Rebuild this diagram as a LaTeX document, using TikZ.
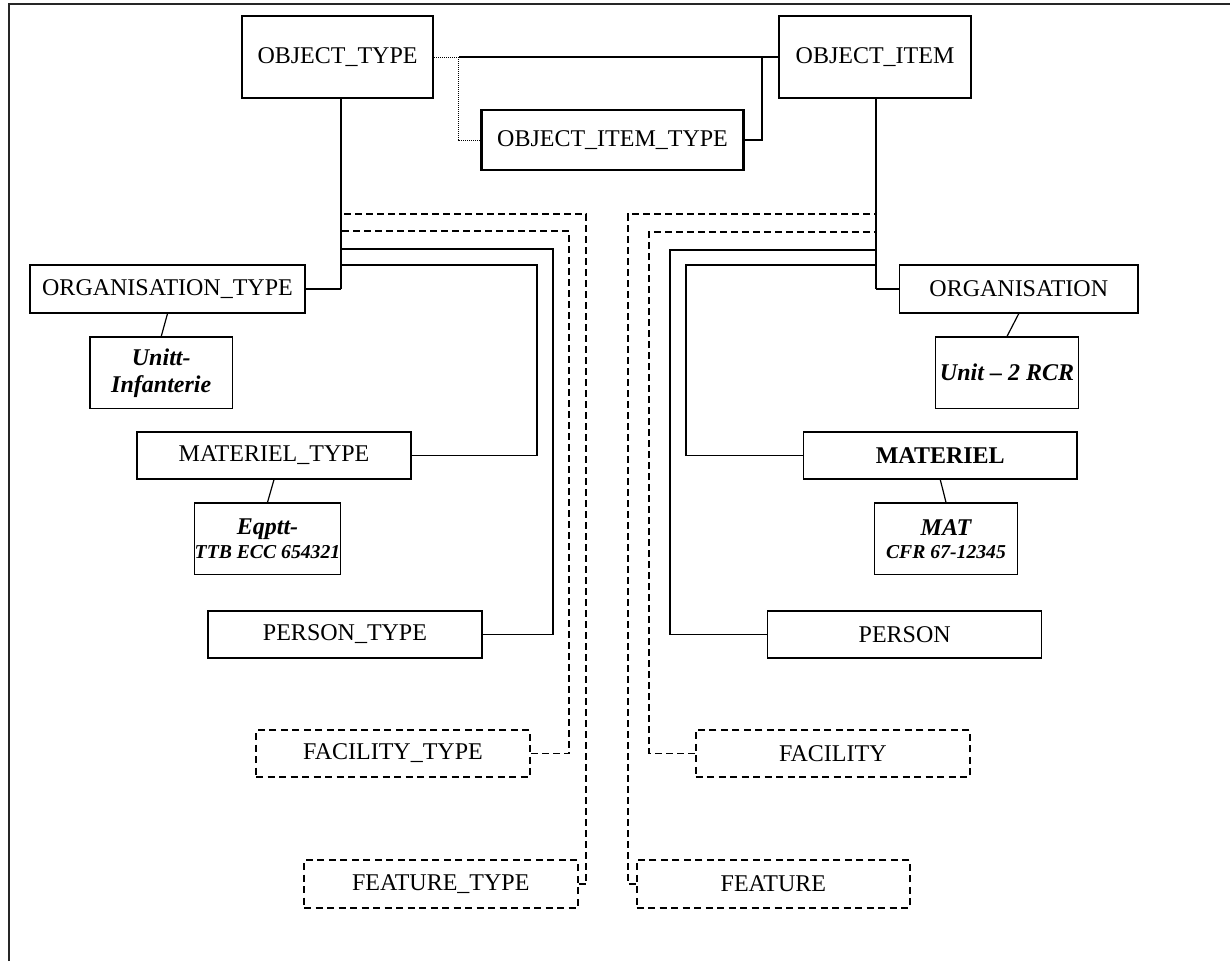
\documentclass[tikz,border=0pt]{standalone}
\usepackage{fontspec}
\setmainfont{Liberation Serif}
\begin{document}
\begin{tikzpicture}[x=1pt,y=-1pt,
  base/.style={draw, rectangle, inner sep=0pt, align=center,
    font=\fontsize{24}{27}\selectfont},
  keybox/.style={base, line width=2.5pt},
  ebox/.style={base, line width=1.3pt},
  dbox/.style={base, line width=2pt, dash pattern=on 7pt off 4.5pt},
  ibox/.style={base, line width=1.3pt},
  trunk/.style={line width=2pt},
  link/.style={line width=1.2pt},
  dlink/.style={line width=1.1pt, dash pattern=on 7pt off 4pt},
  olink/.style={line width=1pt, dash pattern=on 1pt off 1pt},
  bi/.style={font=\bfseries\itshape\fontsize{24}{27}\selectfont}
]
\useasboundingbox (0,0) rectangle (1230,961);

% frame
\draw[line width=2pt, black!85] (8.5,961) -- (8.5,3.5) -- (1230,3.5);

% top level entities
\node[keybox, minimum width=191, minimum height=82] (OT) at (337.5,57) {OBJECT\_TYPE};
\node[keybox, minimum width=192, minimum height=82] (OI) at (875,57) {OBJECT\_ITEM};
\node[keybox, minimum width=262, minimum height=60] (OIT) at (612.5,140) {OBJECT\_ITEM\_TYPE};

% type side
\node[ebox, minimum width=275, minimum height=48] (OrgT) at (167.5,289) {ORGANISATION\_TYPE};
\node[ibox, bi, minimum width=142.5, minimum height=71.5] (UI) at (161.25,372.75) {Unitt-\\Infanterie};
\node[ibox, font=\bfseries\itshape\fontsize{24}{24}\selectfont, minimum width=143, minimum height=71.5] (EQ) at (267.5,538.75)
  {Eqptt-\\{\fontsize{19.7}{24}\selectfont TTB ECC 654321}};
\node[ebox, minimum width=274, minimum height=47] (MT) at (274,455.5) {MATERIEL\_TYPE};
\node[ebox, minimum width=274, minimum height=47] (PT) at (345,634.5) {PERSON\_TYPE};
\node[dbox, minimum width=274, minimum height=47] (FT) at (393,753.5) {FACILITY\_TYPE};
\node[dbox, minimum width=273.5, minimum height=48] (FeT) at (440.75,884) {FEATURE\_TYPE};

% item side
\node[ebox, minimum width=238.5, minimum height=48] (Org) at (1018.75,289) {ORGANISATION};
\node[ibox, bi, minimum width=143, minimum height=71.5] (U2) at (1007,372.75) {Unit \textendash{} 2 RCR};
\node[ebox, minimum width=273.5, minimum height=47] (Mat) at (940.25,455.5) {\bfseries MATERIEL};
\node[ibox, font=\bfseries\itshape\fontsize{24}{23}\selectfont, minimum width=142.6, minimum height=71.5] (MatC) at (946,538.75)
  {MAT\\{\fontsize{19.7}{23}\selectfont CFR 67-12345}};
\node[ebox, minimum width=274, minimum height=47] (Per) at (904.7,634.5) {PERSON};
\node[dbox, minimum width=274.3, minimum height=47] (Fac) at (832.85,753.5) {FACILITY};
\node[dbox, minimum width=273.3, minimum height=48] (Fea) at (773.35,884) {FEATURE};

% bend points
\coordinate (lv) at (341,289);
\coordinate (rv) at (876,289);
\coordinate (od) at (458,57);
\coordinate (oj) at (762,57);
\coordinate (l1) at (586,214);
\coordinate (l2) at (569,231);
\coordinate (l3) at (553,249);
\coordinate (l4) at (537,265);
\coordinate (r1) at (628,214);
\coordinate (r2) at (649,232);
\coordinate (r3) at (670,250);
\coordinate (r4) at (686,265);

% top connectors
\draw[link, shorten <=25pt] (OT.east) -- (OI.west);
\draw[olink] (OT.east) -- (od) |- (OIT.west);
\draw[link] (OIT.east) -| (oj);

% trunks
\draw[trunk] (OT.south -| lv) -- (lv);
\draw[trunk] (OI.south -| rv) -- (rv);

% type side connectors
\draw[link] (OrgT.east) -- (lv);
\draw[link] (MT.east) -| (l4) -- (l4 -| lv);
\draw[link] (PT.east) -| (l3) -- (l3 -| lv);
\draw[dlink] (FT.east) -| (l2) -- (l2 -| lv);
\draw[dlink] (FeT.east) -| (l1) -- (l1 -| lv);
\draw[link] (OrgT.south) -- (UI.north);
\draw[link] (MT.south) -- (EQ.north);

% item side connectors
\draw[link] (Org.west) -- (rv);
\draw[link] (Mat.west) -| (r4) -- (r4 -| rv);
\draw[link] (Per.west) -| (r3) -- (r3 -| rv);
\draw[dlink] (Fac.west) -| (r2) -- (r2 -| rv);
\draw[dlink] (Fea.west) -| (r1) -- (r1 -| rv);
\draw[link] (Org.south) -- (U2.north);
\draw[link] (Mat.south) -- (MatC.north);
\end{tikzpicture}
\end{document}
